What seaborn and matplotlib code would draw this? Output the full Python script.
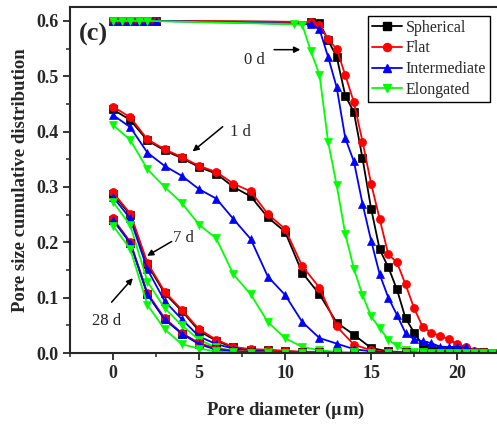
import matplotlib
matplotlib.use("Agg")
import matplotlib.pyplot as plt
from matplotlib.lines import Line2D
from matplotlib.ticker import MultipleLocator
import pandas as pd
import seaborn as sns

shapes = ["Spherical", "Flat", "Intermediate", "Elongated"]
colors = ["#000000", "#ff0000", "#0000ff", "#00ff00"]
marks = ["s", "o", "^", "v"]

# 0 d: flat start, then the drop (0.5 um steps)
x_0d_head = [0, 0.5, 1, 1.5, 2, 2.5]
y_0d_head = [0.6, 0.6, 0.6, 0.6, 0.6, 0.6]
x_0d_tail = [11.5, 12, 12.5, 13, 13.5, 14, 14.5, 15, 15.5, 16, 16.5, 17,
             17.5, 18, 18.5, 19, 19.5, 20, 20.5, 21, 21.5, 22]
x_0d_tail_elong = [10.5, 11, 11.5, 12, 12.5, 13, 13.5, 14, 14.5, 15, 15.5, 16,
                   16.5, 17, 17.5, 18, 18.5, 19, 19.5, 20, 20.5, 21, 21.5, 22]
sph_0d = [0.598, 0.597, 0.565, 0.535, 0.465, 0.435, 0.352, 0.261, 0.187, 0.155, 0.115,
          0.063, 0.037, 0.014, 0.009, 0.006, 0.005, 0.004, 0.003, 0.002, 0.001, 0.0]
flat_0d = [0.598, 0.592, 0.567, 0.549, 0.502, 0.453, 0.382, 0.306, 0.242, 0.178, 0.164,
           0.124, 0.081, 0.047, 0.037, 0.031, 0.025, 0.016, 0.011, 0.004, 0.001, 0.0]
inter_0d = [0.594, 0.585, 0.535, 0.48, 0.388, 0.346, 0.27, 0.203, 0.142, 0.10, 0.069,
            0.036, 0.025, 0.021, 0.018, 0.0115, 0.011, 0.011, 0.010, 0.004, 0.001, 0.0]
elong_0d = [0.594, 0.593, 0.545, 0.503, 0.382, 0.303, 0.215, 0.152, 0.105, 0.066, 0.045,
            0.024, 0.013, 0.005, 0.002, 0.001, 0.0, 0.0, 0.0, 0.0, 0.0, 0.0, 0.0, 0.0]

# 1 d, 7 d, 28 d (1 um steps)
x_int = [0, 1, 2, 3, 4, 5, 6, 7, 8, 9, 10, 11, 12, 13, 14, 15, 16, 17, 18, 19, 20, 21, 22]
sph_1d = [0.440, 0.421, 0.384, 0.366, 0.352, 0.336, 0.324, 0.300, 0.283, 0.245, 0.219, 0.145,
          0.106, 0.055, 0.033, 0.009, 0.003, 0.001, 0, 0, 0, 0, 0]
flat_1d = [0.445, 0.426, 0.386, 0.368, 0.354, 0.338, 0.327, 0.306, 0.292, 0.251, 0.224, 0.157,
           0.118, 0.048, 0.015, 0.005, 0.002, 0.001, 0, 0, 0, 0, 0]
inter_1d = [0.430, 0.408, 0.362, 0.338, 0.320, 0.296, 0.279, 0.242, 0.206, 0.138, 0.105, 0.056,
            0.027, 0.017, 0.007, 0.003, 0.001, 0, 0, 0, 0, 0, 0]
elong_1d = [0.412, 0.385, 0.332, 0.300, 0.271, 0.232, 0.207, 0.142, 0.106, 0.056, 0.027, 0.011,
            0.005, 0.002, 0.001, 0, 0, 0, 0, 0, 0, 0, 0]

sph_7d = [0.287, 0.250, 0.160, 0.108, 0.076, 0.040, 0.022, 0.010, 0.006, 0.005, 0.003, 0.002,
          0.001, 0, 0, 0, 0, 0, 0, 0, 0, 0, 0]
flat_7d = [0.290, 0.252, 0.163, 0.111, 0.078, 0.043, 0.024, 0.011, 0.007, 0.006, 0.004, 0.002,
           0.001, 0, 0, 0, 0, 0, 0, 0, 0, 0, 0]
inter_7d = [0.282, 0.243, 0.151, 0.094, 0.061, 0.030, 0.016, 0.008, 0.004, 0.002, 0.001, 0,
            0, 0, 0, 0, 0, 0, 0, 0, 0, 0, 0]
elong_7d = [0.273, 0.231, 0.129, 0.081, 0.050, 0.024, 0.010, 0.004, 0.002, 0.001, 0, 0,
            0, 0, 0, 0, 0, 0, 0, 0, 0, 0, 0]

sph_28d = [0.241, 0.199, 0.106, 0.061, 0.035, 0.017, 0.007, 0.003, 0.001, 0, 0, 0,
           0, 0, 0, 0, 0, 0, 0, 0, 0, 0, 0]
flat_28d = [0.243, 0.201, 0.108, 0.063, 0.036, 0.018, 0.008, 0.004, 0.002, 0.001, 0, 0,
            0, 0, 0, 0, 0, 0, 0, 0, 0, 0, 0]
inter_28d = [0.240, 0.199, 0.106, 0.061, 0.035, 0.016, 0.006, 0.003, 0.001, 0, 0, 0,
             0, 0, 0, 0, 0, 0, 0, 0, 0, 0, 0]
elong_28d = [0.230, 0.188, 0.087, 0.043, 0.016, 0.008, 0.003, 0.001, 0, 0, 0, 0,
             0, 0, 0, 0, 0, 0, 0, 0, 0, 0, 0]

rows = []
def add(age, shape, xs, ys):
    for x, y in zip(xs, ys):
        rows.append({"age": age, "shape": shape, "diameter": x, "fraction": y})

for s, tail in zip(shapes, [sph_0d, flat_0d, inter_0d]):
    add("0 d", s, x_0d_head + x_0d_tail, y_0d_head + tail)
add("0 d", "Elongated", x_0d_head[:5] + x_0d_tail_elong, y_0d_head[:5] + elong_0d)
for s, ys in zip(shapes, [sph_1d, flat_1d, inter_1d, elong_1d]):
    add("1 d", s, x_int, ys)
for s, ys in zip(shapes, [sph_7d, flat_7d, inter_7d, elong_7d]):
    add("7 d", s, x_int, ys)
for s, ys in zip(shapes, [sph_28d, flat_28d, inter_28d, elong_28d]):
    add("28 d", s, x_int, ys)
df = pd.DataFrame(rows)

sns.set_style("ticks")
plt.rcParams["font.family"] = ["Liberation Serif", "DejaVu Serif"]
plt.rcParams["mathtext.fontset"] = "stix"

fig = plt.figure(figsize=(4.97, 4.25), dpi=100)
ax = fig.add_axes([0.1408, 0.1694, 0.869, 0.814])

msize = 5.8
palette = dict(zip(shapes, colors))
markers = dict(zip(shapes, marks))
for age in ["0 d", "1 d", "7 d", "28 d"]:
    sub = df[df["age"] == age]
    sns.lineplot(data=sub, x="diameter", y="fraction", hue="shape", style="shape",
                 hue_order=shapes, style_order=shapes, palette=palette,
                 markers=markers, dashes=False, estimator=None, legend=False,
                 markersize=msize, linewidth=1.3, ax=ax)
for ln in ax.lines:
    ln.set_markeredgecolor(ln.get_color())
    ln.set_markeredgewidth(0.5)

ax.set_xlim(-2.5, 22.6)
ax.set_ylim(0, 0.625)
ax.xaxis.set_major_locator(MultipleLocator(5))
ax.xaxis.set_minor_locator(MultipleLocator(2.5))
ax.yaxis.set_major_locator(MultipleLocator(0.1))
ax.yaxis.set_minor_locator(MultipleLocator(0.05))
ax.tick_params(which="major", direction="out", length=5, width=1.3, labelsize=13)
ax.tick_params(which="minor", direction="out", length=3, width=1.1)
for lab in ax.get_xticklabels() + ax.get_yticklabels():
    lab.set_fontweight("bold")
for sp in ax.spines.values():
    sp.set_linewidth(1.5)
    sp.set_visible(True)

ax.set_xlabel(r"Pore diameter ($\mathbf{\mu}$m)", fontsize=13.5, fontweight="bold", labelpad=13)
ax.set_ylabel("Pore size cumulative distribution", fontsize=13.5, fontweight="bold", labelpad=5)

handles = [Line2D([], [], color=c, marker=m, markersize=msize, lw=1.3, mec=c)
           for c, m in zip(colors, marks)]
ax.legend(handles, ["Spherical", "Flat", "Intermediate", "Elongated"], loc="upper left",
          bbox_to_anchor=(0.689, 0.975), fontsize=11.5, frameon=True, fancybox=False,
          edgecolor="black", framealpha=1, borderpad=0.25, labelspacing=0.3,
          handlelength=1.9, handletextpad=0.25, borderaxespad=0)

ax.text(-1.12, 0.576, "(c)", fontsize=19, fontweight="bold", ha="center", va="center")
arrow = dict(arrowstyle="-|>", color="black", lw=1.1, mutation_scale=9)
ax.annotate("", xy=(11.05, 0.548), xytext=(9.2, 0.548), arrowprops=arrow)
ax.text(8.24, 0.529, "0 d", fontsize=12, ha="center", va="center")
ax.annotate("", xy=(4.5, 0.361), xytext=(6.5, 0.412), arrowprops=arrow)
ax.text(7.4, 0.40, "1 d", fontsize=12, ha="center", va="center")
ax.annotate("", xy=(1.84, 0.173), xytext=(3.55, 0.204), arrowprops=arrow)
ax.text(4.1, 0.207, "7 d", fontsize=12, ha="center", va="center")
ax.annotate("", xy=(1.26, 0.139), xytext=(-0.19, 0.088), arrowprops=arrow)
ax.text(-0.4, 0.058, "28 d", fontsize=12, ha="center", va="center")

fig.savefig("out.png", dpi=100)
